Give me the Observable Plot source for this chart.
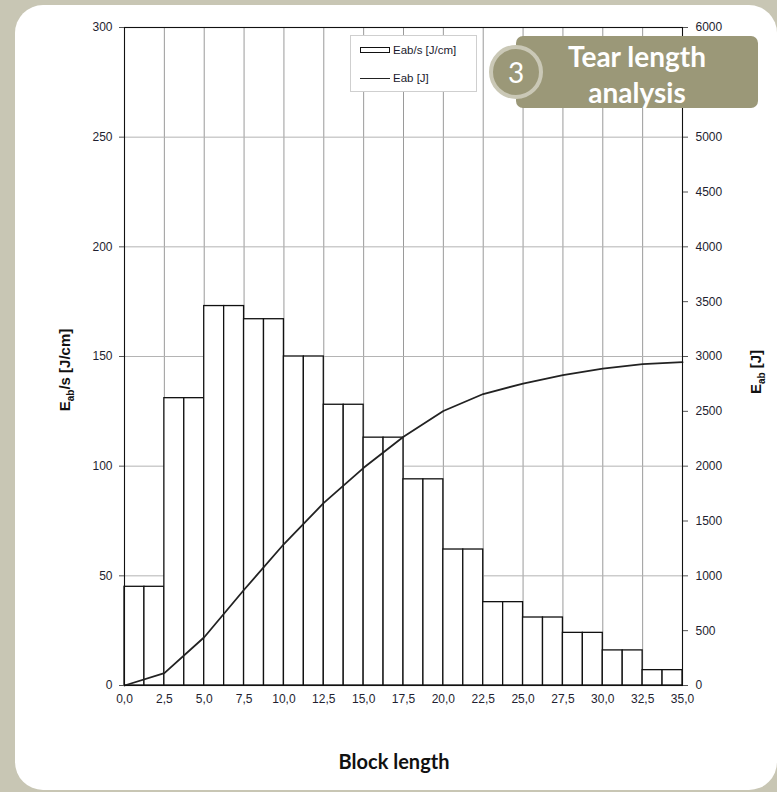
<!DOCTYPE html>
<html>
<head>
<meta charset="utf-8">
<script src="https://cdn.jsdelivr.net/npm/d3@7"></script>
<script src="https://cdn.jsdelivr.net/npm/@observablehq/plot@0.6"></script>
<style>
  html, body { margin: 0; padding: 0; }
  body { width: 777px; height: 792px; background: #c8c6b4; position: relative; overflow: hidden; font-family: "Liberation Sans", Arial, sans-serif; }
  #card { position: absolute; left: 15px; top: 5px; width: 762px; height: 785px; background: #fff; border-radius: 28px; }
  #chart { position: absolute; left: 0; top: 0; }
  .ytitle { position: absolute; font-weight: bold; font-size: 15px; color: #111; white-space: nowrap; transform: translate(-50%, -50%) rotate(-90deg); }
  .ytitle sub { font-size: 10px; }
  #xtitle { position: absolute; left: 394px; top: 761px; transform: translate(-50%, -50%); font-family: Lato, sans-serif; font-weight: bold; font-size: 20px; color: #111; white-space: nowrap; }
  #legend { position: absolute; left: 350px; top: 35px; width: 125px; height: 55px; border: 1px solid #cfcfcf; background: #fff; font-size: 11.5px; color: #1a1a2e; }
  #legend .row { position: absolute; left: 9px; display: flex; align-items: center; white-space: nowrap; }
  #legend .sw { width: 28px; height: 4px; border: 1.3px solid #111; margin-right: 3px; background: #fff; }
  #legend .ln { width: 30px; height: 0; border-top: 1.8px solid #222; margin-right: 3px; }
  #badge { position: absolute; left: 516px; top: 36px; width: 242px; height: 72px; background: #9b9878; border-radius: 7px; }
  #badge .txt { position: absolute; left: 0; width: 242px; text-align: center; font-family: Lato, sans-serif; font-weight: bold; font-size: 28px; color: #fff; line-height: 36px; }
  #circle { position: absolute; left: 489px; top: 45px; width: 46px; height: 46px; border-radius: 50%; background: #9b9878; border: 4px solid #cac8b6; color: #fff; font-family: Lato, sans-serif; font-size: 28px; text-align: center; line-height: 46px; }
</style>
</head>
<body>
<div id="card"></div>
<div id="chart"></div>
<div class="ytitle" style="left:66px; top:370px;">E<sub>ab</sub>/s [J/cm]</div>
<div class="ytitle" style="left:757px; top:372px;">E<sub>ab</sub> [J]</div>
<div id="xtitle">Block length</div>
<div id="legend">
  <div class="row" style="top:8px;"><div class="sw"></div><span>Eab/s [J/cm]</span></div>
  <div class="row" style="top:36px;"><div class="ln"></div><span>Eab [J]</span></div>
</div>
<div id="badge">
  <div class="txt" style="top:2px;">Tear length</div>
  <div class="txt" style="top:38px;">analysis</div>
</div>
<div id="circle">3</div>
<script>
// Bin starts (block length) and Eab/s values [J/cm]
const binStarts = [0, 2.5, 5, 7.5, 10, 12.5, 15, 17.5, 20, 22.5, 25, 27.5, 30, 32.5];
const eabPerS   = [45, 131, 173, 167, 150, 128, 113, 94, 62, 38, 31, 24, 16, 7];
const binWidth = 2.5;

// Cumulative Eab [J] at bin edges
const edgeX = [0, 2.5, 5, 7.5, 10, 12.5, 15, 17.5, 20, 22.5, 25, 27.5, 30, 32.5, 35];
const eabJ  = [0, 113, 440, 873, 1290, 1665, 1985, 2268, 2503, 2658, 2753, 2830, 2890, 2930, 2948];

// Tick values
const xTicks = [0, 2.5, 5, 7.5, 10, 12.5, 15, 17.5, 20, 22.5, 25, 27.5, 30, 32.5, 35];
const leftTicks = [0, 50, 100, 150, 200, 250, 300];
const rightTicks = [0, 500, 1000, 1500, 2000, 2500, 3000, 3500, 4000, 4500, 5000, 5500, 6000];
const rightMax = 6000, leftMax = 300;
const ratio = rightMax / leftMax;

// Each bin is drawn as two half-width bars of equal height
const halfBars = [];
binStarts.forEach((s, i) => {
  halfBars.push({x1: s, x2: s + binWidth / 2, v: eabPerS[i]});
  halfBars.push({x1: s + binWidth / 2, x2: s + binWidth, v: eabPerS[i]});
});
const linePts = edgeX.map((x, i) => ({x, e: eabJ[i]}));

const chart = Plot.plot({
  width: 777,
  height: 720,
  marginLeft: 124,
  marginRight: 95,
  marginTop: 27,
  marginBottom: 35,
  style: {background: "transparent", fontFamily: "Liberation Sans, Arial, sans-serif", fontSize: "12px", color: "#1e1e30"},
  x: {domain: [0, 35]},
  y: {domain: [0, leftMax]},
  marks: [
    Plot.gridX(xTicks.slice(1, -1), {stroke: "#9a9a9a", strokeOpacity: 1}),
    Plot.gridY(leftTicks.slice(1, -1), {stroke: "#b4b4b4", strokeOpacity: 1}),
    Plot.rect(halfBars, {x1: "x1", x2: "x2", y1: 0, y2: "v", fill: "white", stroke: "#111", strokeWidth: 1.3}),
    Plot.line(linePts, {x: "x", y: d => d.e / ratio, stroke: "#222", strokeWidth: 1.8}),
    Plot.frame({stroke: "#111", strokeWidth: 1.1}),
    Plot.axisY(leftTicks, {anchor: "left", tickSize: 5, tickPadding: 7, label: null, stroke: "#555"}),
    Plot.axisY(rightTicks.map(v => v / ratio), {anchor: "right", tickSize: 5, tickPadding: 8, label: null, stroke: "#555",
      tickFormat: d => String(Math.round(d * ratio))}),
    Plot.axisX(xTicks, {anchor: "bottom", tickSize: 0, tickPadding: 9, label: null,
      tickFormat: d => d.toFixed(1).replace(".", ",")})
  ]
});
document.getElementById("chart").appendChild(chart);
</script>
</body>
</html>
